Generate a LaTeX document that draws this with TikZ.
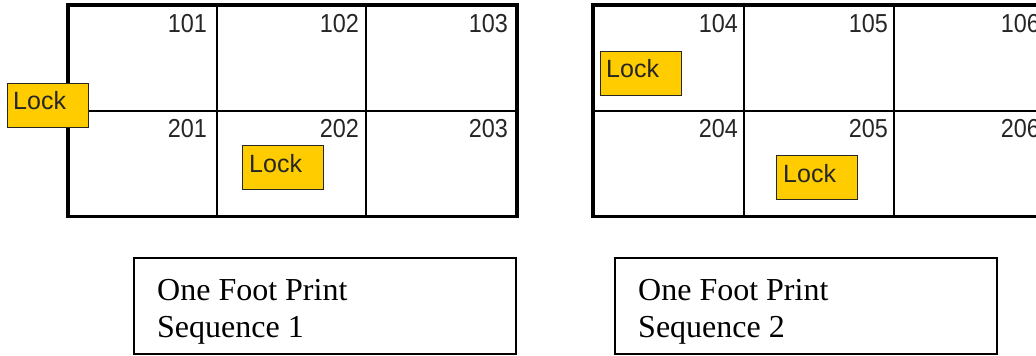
\documentclass[tikz,border=0pt]{standalone}
\usepackage{fontspec}
\setmainfont{Liberation Serif}
\newfontfamily\pixfont[FakeStretch=0.9]{Liberation Sans}
\newfontfamily\lockfont{Liberation Sans}
\definecolor{lockyellow}{HTML}{FFCC00}
\begin{document}
\begin{tikzpicture}[x=1pt,y=-1pt,
  outer/.style={draw=black,line width=3.5pt},
  inner/.style={draw=black,line width=1.6pt},
  roomno/.style={anchor=base east,inner sep=0pt,font=\pixfont\fontsize{26}{26}\selectfont,text=black!85},
  lockbox/.style={draw=black!85,line width=1.3pt,fill=lockyellow,minimum width=81pt,minimum height=44pt,inner sep=0pt,anchor=north west},
  locktext/.style={anchor=base west,inner sep=0pt,font=\lockfont\fontsize{25}{25}\selectfont,text=black!85},
  capbox/.style={draw=black,line width=1.5pt},
  captext/.style={anchor=base west,inner sep=0pt,align=left,font=\fontsize{32}{37}\selectfont}]
\useasboundingbox (0,0) rectangle (1036,356);
% ---- left grid ----
\draw[inner] (217,5) -- (217,216.5);
\draw[inner] (366,5) -- (366,216.5);
\draw[inner] (68,111) -- (517,111);
\draw[outer] (68,5) rectangle (517,216.5);
\node[roomno] (r101) at (207,32) {101};
\node[roomno] (r102) at (359,32) {102};
\node[roomno] (r103) at (508,32) {103};
\node[roomno] (r201) at (207,137) {201};
\node[roomno] (r202) at (359,137) {202};
\node[roomno] (r203) at (508,137) {203};
\node[lockbox] (lockA) at (7,83) {};
\node[locktext] (lockAt) at ([shift={(6,26)}]lockA.north west) {Lock};
\node[lockbox] (lockB) at (242,145) {};
\node[locktext] (lockBt) at ([shift={(7,27)}]lockB.north west) {Lock};
% ---- right grid ----
\begin{scope}
\clip (560,0) rectangle (1036,356);
\draw[inner] (744,5) -- (744,216.5);
\draw[inner] (894,5) -- (894,216.5);
\draw[inner] (593,111) -- (1046,111);
\draw[outer] (593,5) rectangle (1046,216.5);
\node[roomno] (r104) at (738,32) {104};
\node[roomno] (r105) at (888,32) {105};
\node[roomno] (r106) at (1040,32) {106};
\node[roomno] (r204) at (738,137) {204};
\node[roomno] (r205) at (888,137) {205};
\node[roomno] (r206) at (1040,137) {206};
\end{scope}
\node[lockbox] (lockC) at (600,51) {};
\node[locktext] (lockCt) at ([shift={(6,26)}]lockC.north west) {Lock};
\node[lockbox] (lockD) at (776,155) {};
\node[locktext] (lockDt) at ([shift={(7,27)}]lockD.north west) {Lock};
% ---- captions ----
\draw[capbox] (134,258) rectangle (516,354);
\node[captext] (cap1) at (157,337) {One Foot Print\\Sequence 1};
\draw[capbox] (615,258) rectangle (997,354);
\node[captext] (cap2) at (638,337) {One Foot Print\\Sequence 2};
\end{tikzpicture}
\end{document}
